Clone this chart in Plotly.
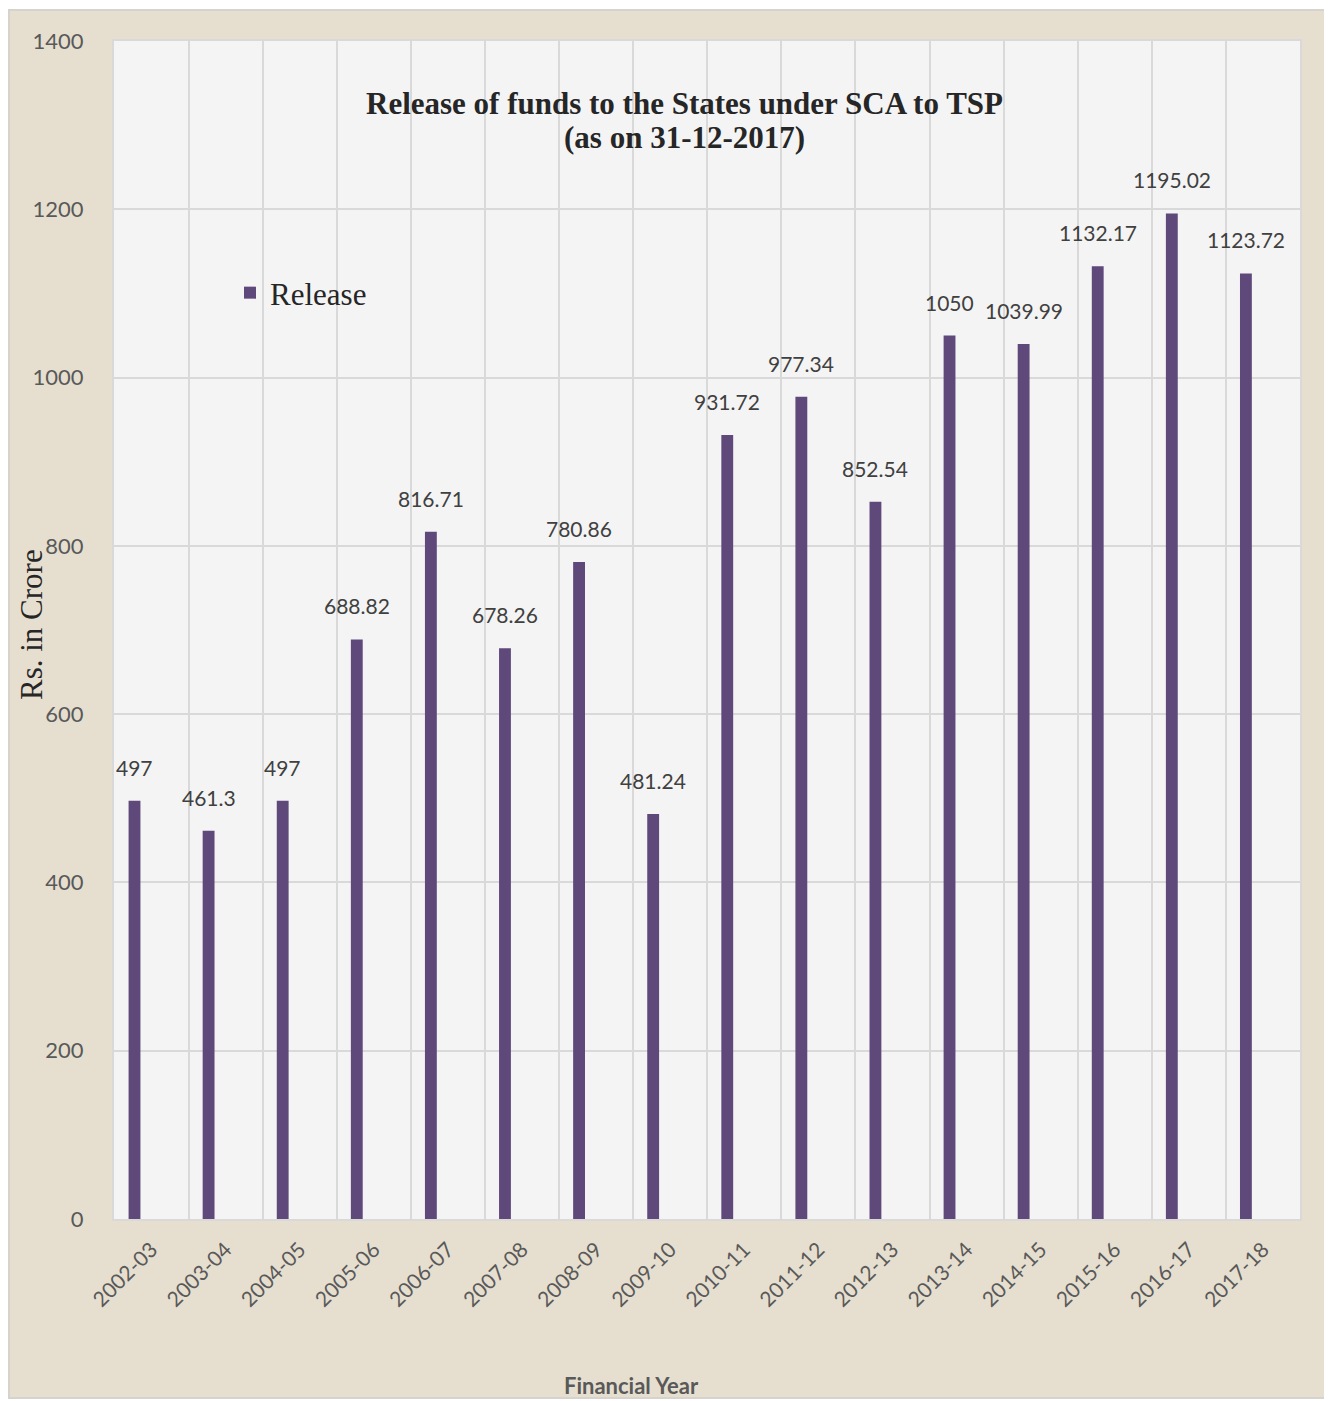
import plotly.graph_objects as go

years = ["2002-03", "2003-04", "2004-05", "2005-06", "2006-07", "2007-08", "2008-09", "2009-10",
         "2010-11", "2011-12", "2012-13", "2013-14", "2014-15", "2015-16", "2016-17", "2017-18"]
release = [497, 461.3, 497, 688.82, 816.71, 678.26, 780.86, 481.24,
           931.72, 977.34, 852.54, 1050, 1039.99, 1132.17, 1195.02, 1123.72]
labels = ["497", "461.3", "497", "688.82", "816.71", "678.26", "780.86", "481.24",
          "931.72", "977.34", "852.54", "1050", "1039.99", "1132.17", "1195.02", "1123.72"]

# the page body adds an 8px margin, so the figure is laid out 8px smaller
OFF = 8
W, H = 1332 - OFF, 1401 - OFF
L, T = 114 - OFF, 41 - OFF
PR, PB = 1300 - OFF, 1219 - OFF   # plot right / bottom edge in figure pixels
R, B = W - PR, H - PB
pw, ph = PR - L, PB - T


def px(x):
    return (x - OFF - L) / pw


def py(y):
    return (PB - (y - OFF)) / ph


bar_color = "#5f497a"
sans = "Lato, Open Sans, sans-serif"
serif = "Liberation Serif, Times New Roman, serif"
label_font = dict(family=sans, size=21, color="#404040")

fig = go.Figure()
fig.add_trace(go.Bar(
    x=years, y=release, name="Release",
    marker=dict(color=bar_color, line=dict(width=0)),
    width=0.16, offset=-0.31,
))

# data labels sit above each bar, centred on the shifted bar
cat_w = pw / len(years)
for yr, v, t in zip(years, release, labels):
    fig.add_annotation(x=yr, y=v, text=t, showarrow=False, font=label_font,
                       xshift=-0.23 * cat_w, yanchor="bottom", yshift=19)

# beige background frame, then the pale plot area on top of it
fig.add_shape(type="rect", xref="paper", yref="paper", layer="below",
              x0=px(9), x1=px(1330), y0=py(1398), y1=py(10),
              fillcolor="#e6dfd0", line=dict(color="#d6d3cc", width=2))
fig.add_shape(type="rect", xref="paper", yref="paper", layer="below",
              x0=0, x1=1, y0=0, y1=1, fillcolor="#f4f4f4", line=dict(width=0))

title_font = dict(family=serif, size=31, color="#262626")
fig.add_annotation(xref="paper", yref="paper", x=px(684), y=py(103),
                   xanchor="center", yanchor="middle",
                   text="<b>Release of funds to the States under SCA to TSP</b>",
                   showarrow=False, font=title_font)
fig.add_annotation(xref="paper", yref="paper", x=px(684), y=py(137),
                   xanchor="center", yanchor="middle",
                   text="<b>(as on 31-12-2017)</b>",
                   showarrow=False, font=title_font)

fig.add_annotation(xref="paper", yref="paper", x=px(631), y=py(1385),
                   xanchor="center", yanchor="middle",
                   text="<b>Financial Year</b>", showarrow=False,
                   font=dict(family=sans, size=22, color="#595959"))

fig.add_annotation(xref="paper", yref="paper", x=px(31), y=py(625),
                   xanchor="center", yanchor="middle",
                   text="Rs. in Crore", showarrow=False, textangle=-90,
                   font=dict(family=serif, size=31, color="#262626"))

fig.update_layout(
    width=W, height=H,
    margin=dict(l=L, r=R, t=T, b=B),
    paper_bgcolor="white",
    plot_bgcolor="#f4f4f4",
    showlegend=True,
    legend=dict(x=px(230), y=py(293), yanchor="middle", xanchor="left",
                bgcolor="rgba(0,0,0,0)",
                font=dict(family=serif, size=31, color="#262626")),
    xaxis=dict(
        type="category",
        tickson="boundaries", showgrid=True, gridcolor="#d9d9d9", gridwidth=2,
        tickangle=-45, ticks="", showline=True, linecolor="#d9d9d9", linewidth=2, mirror=True,
        tickfont=dict(family=sans, size=21, color="#595959"),
        ticklabelstandoff=8,
    ),
    yaxis=dict(
        range=[0, 1400], dtick=200, showgrid=True, gridcolor="#d9d9d9", gridwidth=2,
        ticks="", showline=True, linecolor="#d9d9d9", linewidth=2, mirror=True,
        zeroline=False, ticklabelstandoff=24,
        tickfont=dict(family=sans, size=22, color="#595959"),
    ),
)

fig.write_html("out.html")
